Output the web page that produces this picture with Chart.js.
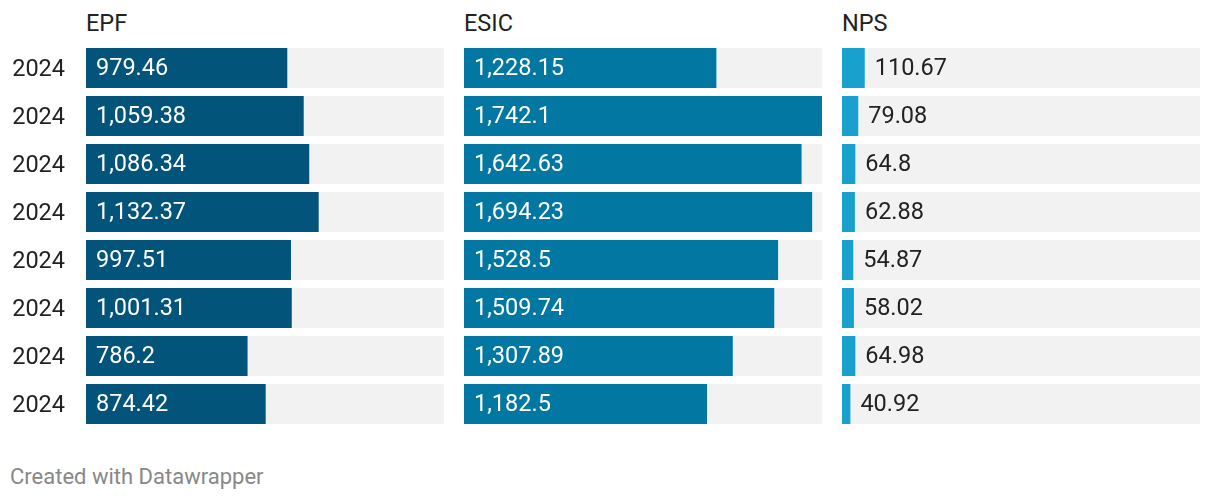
<!DOCTYPE html>
<html>
<head>
<meta charset="utf-8">
<script src="https://cdn.jsdelivr.net/npm/chart.js@4"></script>
<style>
	body { margin: 0; background: #fff; }
	#wrap { position: relative; width: 1220px; height: 500px; font-family: Roboto, sans-serif; }
	.title { position: absolute; top: 11px; font-size: 23.5px; line-height: 24px; color: #222; }
	.footer { position: absolute; left: 10px; top: 466px; font-size: 22px; line-height: 22px; color: #888; }
	canvas { position: absolute; top: 44px; }
</style>
</head>
<body>
<div id="wrap">
	<div class="title" style="left:86px">EPF</div>
	<div class="title" style="left:464px">ESIC</div>
	<div class="title" style="left:842px">NPS</div>
	<canvas id="graph_epf" width="444" height="384" style="left:0"></canvas>
	<canvas id="graph_esic" width="358" height="384" style="left:464px"></canvas>
	<canvas id="graph_nps" width="358" height="384" style="left:842px"></canvas>
	<div class="footer">Created with Datawrapper</div>
</div>
<script>
	const years = ['2024', '2024', '2024', '2024', '2024', '2024', '2024', '2024'];

	const epfValues = [979.46, 1059.38, 1086.34, 1132.37, 997.51, 1001.31, 786.2, 874.42];
	const esicValues = [1228.15, 1742.1, 1642.63, 1694.23, 1528.5, 1509.74, 1307.89, 1182.5];
	const npsValues = [110.67, 79.08, 64.8, 62.88, 54.87, 58.02, 64.98, 40.92];

	// all three panels share one scale
	const maxValue = Math.max(...epfValues, ...esicValues, ...npsValues);

	Chart.defaults.font.family = 'Roboto';

	const fmt = new Intl.NumberFormat('en-US', { maximumFractionDigits: 2 });

	const valueLabels = {
		id: 'valueLabels',
		afterDatasetsDraw(chart) {
			const ctx = chart.ctx;
			const meta = chart.getDatasetMeta(0);
			const data = chart.data.datasets[0].data;
			ctx.save();
			ctx.font = '23.5px Roboto';
			ctx.textBaseline = 'middle';
			ctx.textAlign = 'left';
			meta.data.forEach((bar, i) => {
				const text = fmt.format(data[i]);
				const w = ctx.measureText(text).width;
				if (w + 20 < bar.x - bar.base) {
					ctx.fillStyle = '#fff';
					ctx.fillText(text, bar.base + 10, bar.y + 1.5);
				} else {
					ctx.fillStyle = '#222';
					ctx.fillText(text, bar.x + 10, bar.y + 1.5);
				}
			});
			ctx.restore();
		}
	};

	function renderGraph(container, values, color, showYears) {
		new Chart(container, {
			type: 'bar',
			data: {
				labels: years,
				datasets: [{
					data: values,
					backgroundColor: color,
					grouped: false,
					categoryPercentage: 40 / 48,
					barPercentage: 1,
				}, {
					data: values.map(() => maxValue),
					backgroundColor: '#f2f2f2',
					grouped: false,
					categoryPercentage: 40 / 48,
					barPercentage: 1,
				}]
			},
			options: {
				indexAxis: 'y',
				responsive: false,
				animation: false,
				devicePixelRatio: 1,
				layout: { padding: 0 },
				plugins: {
					legend: { display: false },
					tooltip: { enabled: false },
				},
				scales: {
					x: {
						display: false,
						min: 0,
						max: maxValue,
					},
					y: {
						display: showYears,
						border: { display: false },
						grid: { display: false, drawTicks: false },
						ticks: {
							color: '#222',
							padding: 21,
							labelOffset: 2,
							font: { size: 23.5 },
						},
						afterFit(scale) {
							if (!showYears) return;
							scale.width = 86;
							scale.paddingTop = 0;
							scale.paddingBottom = 0;
						}
					}
				}
			},
			plugins: [valueLabels]
		});
	}

	renderGraph(document.querySelector('#graph_epf'), epfValues, '#03547b', true);
	renderGraph(document.querySelector('#graph_esic'), esicValues, '#0277a1', false);
	renderGraph(document.querySelector('#graph_nps'), npsValues, '#18a1cd', false);
</script>
</body>
</html>
